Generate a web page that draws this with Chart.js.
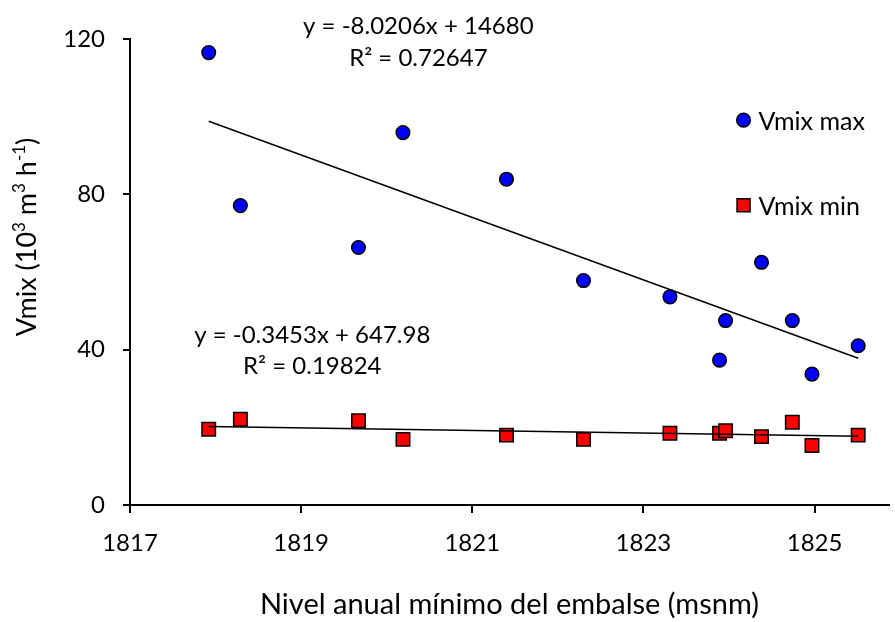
<!DOCTYPE html>
<html>
<head>
<meta charset="utf-8">
<script src="https://cdn.jsdelivr.net/npm/chart.js@4/dist/chart.umd.min.js"></script>
<style>
  html, body { margin: 0; padding: 0; background: #fff; overflow: hidden; }
</style>
</head>
<body>
<canvas id="grafico" width="900" height="622"></canvas>
<script>
const FONT = 'Lato';

// nivel anual minimo del embalse (msnm)
const nivel = [1817.92, 1818.29, 1819.67, 1820.19, 1821.40, 1822.30, 1823.31, 1823.89, 1823.96, 1824.38, 1824.74, 1824.97, 1825.51];
// Vmix (10^3 m3 h-1)
const vmixMax = [116.5, 77.1, 66.3, 95.9, 83.9, 57.8, 53.6, 37.3, 47.5, 62.5, 47.5, 33.7, 41.0];
const vmixMin = [19.5, 22.1, 21.7, 16.9, 18.0, 16.9, 18.5, 18.5, 19.1, 17.6, 21.3, 15.3, 18.0];

// lineas de tendencia (extremos)
const tendX = [1817.92, 1825.51];
const tendMax = [98.8, 37.8];
const tendMin = [20.2, 17.7];

const xTicks = [1817, 1819, 1821, 1823, 1825];
const yTicks = [0, 40, 80, 120];

const ecuacionMax = ['y = -8.0206x + 14680', 'R² = 0.72647'];
const ecuacionMin = ['y = -0.3453x + 647.98', 'R² = 0.19824'];

const pares = (xs, ys) => xs.map((x, i) => ({ x: x, y: ys[i] }));

// textos extra: ecuaciones, leyenda y titulo del eje y
const extras = {
  id: 'extras',
  afterDraw(chart) {
    const ctx = chart.ctx;
    const sx = chart.scales.x, sy = chart.scales.y;
    ctx.save();
    ctx.fillStyle = '#000';
    ctx.textBaseline = 'middle';
    ctx.textAlign = 'center';
    ctx.font = '24px ' + FONT;
    ctx.fillText(ecuacionMax[0], sx.getPixelForValue(1820.37), sy.getPixelForValue(123.4));
    ctx.fillText(ecuacionMax[1], sx.getPixelForValue(1820.37), sy.getPixelForValue(115.0));
    ctx.fillText(ecuacionMin[0], sx.getPixelForValue(1819.13), sy.getPixelForValue(43.6));
    ctx.fillText(ecuacionMin[1], sx.getPixelForValue(1819.13), sy.getPixelForValue(35.6));

    // leyenda
    const lx = sx.getPixelForValue(1824.17);
    const ds = chart.data.datasets;
    ctx.font = '25px ' + FONT;
    ctx.textBaseline = 'alphabetic';
    [[ds[0], 99.1], [ds[1], 77.2]].forEach(([d, v]) => {
      const py = sy.getPixelForValue(v);
      ctx.beginPath();
      if (d.pointStyle === 'rect') {
        ctx.rect(lx - 6.5, py - 6.5, 13, 13);
      } else {
        ctx.arc(lx, py, d.pointRadius, 0, Math.PI * 2);
      }
      ctx.fillStyle = d.backgroundColor;
      ctx.fill();
      ctx.lineWidth = d.borderWidth;
      ctx.strokeStyle = d.borderColor;
      ctx.stroke();
      ctx.fillStyle = '#000';
      ctx.textAlign = 'left';
      ctx.fillText(d.label, lx + 15, py + 10);
    });

    // titulo eje y con superindices
    const partes = [['Vmix (10', 0], ['3', 1], [' m', 0], ['3', 1], [' h', 0], ['-1', 1], [')', 0]];
    const fN = '27px ' + FONT, fS = '17px ' + FONT;
    let total = 0;
    partes.forEach(([t, s]) => { ctx.font = s ? fS : fN; total += ctx.measureText(t).width; });
    ctx.translate(30, 237);
    ctx.rotate(-Math.PI / 2);
    ctx.textAlign = 'left';
    let px = -total / 2;
    partes.forEach(([t, s]) => {
      ctx.font = s ? fS : fN;
      ctx.fillText(t, px, s ? -5 : 6);
      px += ctx.measureText(t).width;
    });
    ctx.restore();
  }
};

new Chart(document.getElementById('grafico'), {
  type: 'scatter',
  data: {
    datasets: [
      {
        label: 'Vmix max',
        data: pares(nivel, vmixMax),
        pointStyle: 'circle',
        pointRadius: 6.8,
        backgroundColor: '#0000ff',
        borderColor: '#000',
        borderWidth: 1.5,
        order: 2
      },
      {
        label: 'Vmix min',
        data: pares(nivel, vmixMin),
        pointStyle: 'rect',
        pointRadius: 9.5,
        backgroundColor: '#ff0000',
        borderColor: '#000',
        borderWidth: 1.5,
        order: 2
      },
      {
        type: 'line',
        label: 'tendencia max',
        data: pares(tendX, tendMax),
        borderColor: '#000',
        borderWidth: 1.5,
        pointRadius: 0,
        order: 1
      },
      {
        type: 'line',
        label: 'tendencia min',
        data: pares(tendX, tendMin),
        borderColor: '#000',
        borderWidth: 1.5,
        pointRadius: 0,
        order: 1
      }
    ]
  },
  options: {
    responsive: false,
    animation: false,
    devicePixelRatio: 1,
    layout: { padding: { top: 39, right: 0, left: 0, bottom: 0 } },
    plugins: {
      legend: { display: false },
      tooltip: { enabled: false }
    },
    scales: {
      x: {
        type: 'linear',
        min: 1817,
        max: 1825.87,
        afterBuildTicks: s => { s.ticks = xTicks.map(v => ({ value: v })); },
        afterFit: s => { s.height = 117; },
        ticks: { color: '#000', font: { family: FONT, size: 24 }, padding: 16, maxRotation: 0, callback: v => String(v) },
        grid: { drawOnChartArea: false, color: '#000', lineWidth: 2, tickLength: 8 },
        border: { color: '#000', width: 2 },
        title: {
          display: true,
          text: 'Nivel anual mínimo del embalse (msnm)',
          color: '#000',
          font: { family: FONT, size: 29 },
          padding: { top: 0, bottom: 0 }
        }
      },
      y: {
        min: 0,
        max: 120,
        afterBuildTicks: s => { s.ticks = yTicks.map(v => ({ value: v })); },
        afterFit: s => { s.width = 130; },
        ticks: { color: '#000', font: { family: FONT, size: 24 }, padding: 18 },
        grid: { drawOnChartArea: false, color: '#000', lineWidth: 2, tickLength: 7 },
        border: { color: '#000', width: 2 }
      }
    }
  },
  plugins: [extras]
});
</script>
</body>
</html>
